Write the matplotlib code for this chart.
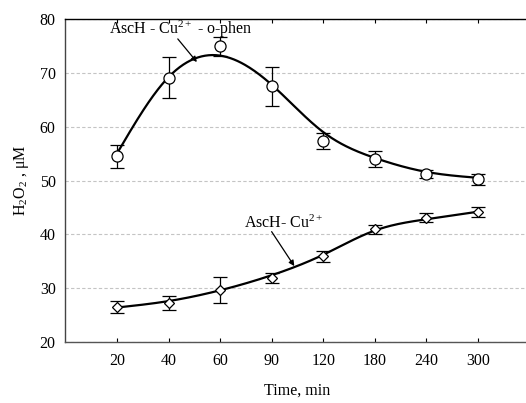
import numpy as np
import matplotlib
matplotlib.use("Agg")
import matplotlib.pyplot as plt

plt.rcParams['font.family'] = ['Liberation Serif', 'DejaVu Serif']
plt.rcParams['mathtext.fontset'] = 'custom'
plt.rcParams['mathtext.rm'] = 'Liberation Serif'
plt.rcParams['mathtext.it'] = 'Liberation Serif:italic'
plt.rcParams['mathtext.bf'] = 'Liberation Serif:bold'

# ---- data ----
time_labels = ["20", "40", "60", "90", "120", "180", "240", "300"]
phen_vals = [54.5, 69.1, 74.9, 67.5, 57.4, 54.0, 51.2, 50.2]
phen_err = [2.1, 3.8, 1.8, 3.6, 1.5, 1.4, 0.7, 1.0]
phen_fit = [55.0, 69.2, 73.2, 67.8, 59.0, 54.2, 51.6, 50.5]
cu_vals = [26.5, 27.2, 29.7, 31.9, 35.9, 40.9, 43.1, 44.2]
cu_err = [1.1, 1.3, 2.4, 0.9, 1.0, 0.8, 0.8, 0.9]
cu_fit = [26.4, 27.6, 29.6, 32.4, 36.2, 40.7, 42.8, 44.2]


def natural_spline(x, y, xs):
    x = np.asarray(x, float); y = np.asarray(y, float)
    n = len(x)
    h = np.diff(x)
    A = np.zeros((n, n)); b = np.zeros(n)
    A[0, 0] = 1; A[-1, -1] = 1
    for i in range(1, n - 1):
        A[i, i - 1] = h[i - 1]
        A[i, i] = 2 * (h[i - 1] + h[i])
        A[i, i + 1] = h[i]
        b[i] = 3 * ((y[i + 1] - y[i]) / h[i] - (y[i] - y[i - 1]) / h[i - 1])
    c = np.linalg.solve(A, b)
    out = np.empty_like(xs)
    for k, xv in enumerate(xs):
        i = min(max(np.searchsorted(x, xv) - 1, 0), n - 2)
        bi = (y[i + 1] - y[i]) / h[i] - h[i] * (2 * c[i] + c[i + 1]) / 3
        di = (c[i + 1] - c[i]) / (3 * h[i])
        dx = xv - x[i]
        out[k] = y[i] + bi * dx + c[i] * dx ** 2 + di * dx ** 3
    return out


pos = np.arange(1, len(time_labels) + 1)
xs = np.linspace(pos[0], pos[-1], 300)

fig = plt.figure(figsize=(5.26, 4.03), dpi=100)
ax = fig.add_axes([65.4 / 526, 61 / 403, 464 / 526, 323 / 403])

ax.plot(xs, natural_spline(pos, phen_fit, xs), color='black', lw=1.6, zorder=3)
ax.plot(xs, natural_spline(pos, cu_fit, xs), color='black', lw=1.6, zorder=3)

ax.errorbar(pos, phen_vals, yerr=phen_err, fmt='o', ms=8, mfc='white', mec='black',
            mew=0.9, ecolor='black', elinewidth=0.9, capsize=5, capthick=0.9, zorder=4)
ax.errorbar(pos, cu_vals, yerr=cu_err, fmt='D', ms=5, mfc='white', mec='black',
            mew=0.9, ecolor='black', elinewidth=0.9, capsize=5, capthick=0.9, zorder=4)

ax.set_xlim(0, 9)
ax.set_ylim(20, 80)
ax.set_xticks(pos)
ax.set_xticklabels(time_labels)
ax.set_yticks(np.arange(20, 81, 10))
ax.yaxis.grid(True, linestyle=(0, (3, 2)), color='#c4c4c4', lw=0.8)
ax.set_axisbelow(True)

ax.tick_params(axis='x', direction='in', length=3, top=True, labelsize=11.5, pad=8)
ax.tick_params(axis='y', direction='in', length=0, labelsize=11.5, pad=7)
ax.spines['right'].set_visible(False)
ax.spines['top'].set_color('black')
ax.spines['bottom'].set_color('#555555')
ax.spines['left'].set_color('#444444')
for s in ax.spines.values():
    s.set_linewidth(1.0)

ax.set_xlabel('Time, min', fontsize=11.5, labelpad=10)
ax.set_ylabel(r'H$_\mathregular{2}$O$_\mathregular{2}$ , μM', fontsize=11.5, labelpad=6)

arrow = dict(arrowstyle='-|>', color='black', lw=0.9, mutation_scale=8, shrinkA=0, shrinkB=0)

ax.text(2.23, 77.3, r'AscH - Cu$^{\mathregular{2+}}$ - o-phen', fontsize=11.5,
        ha='center', va='baseline')
ax.annotate('', xy=(2.55, 72.0), xytext=(2.18, 76.3), arrowprops=arrow)

ax.text(4.24, 41.2, r'AscH- Cu$^{\mathregular{2+}}$', fontsize=11.5,
        ha='center', va='baseline')
ax.annotate('', xy=(4.44, 34.1), xytext=(4.0, 40.5), arrowprops=arrow)

fig.savefig('out.png', dpi=100)
